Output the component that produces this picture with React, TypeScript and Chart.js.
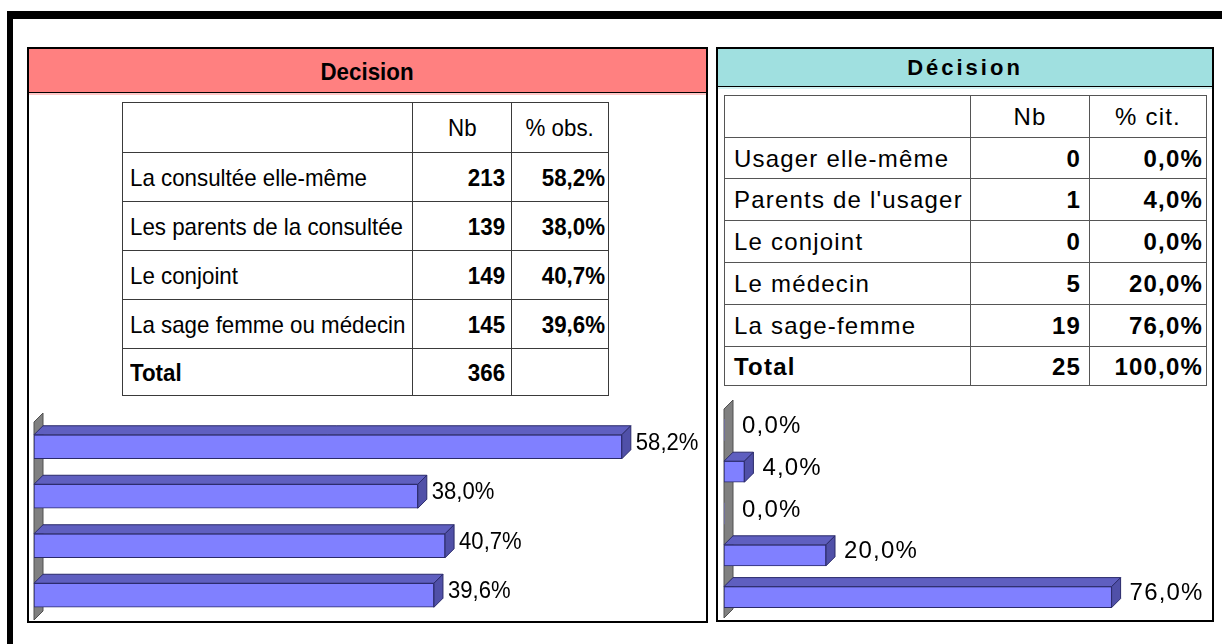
import React, { useEffect, useRef } from "react";
import { Chart, registerables } from "chart.js";

Chart.register(...registerables);

// ---------- Data ----------
const leftTitle = "Decision";
const leftHeaders = ["Nb", "% obs."];
const leftCategories = [
  "La consultée elle-même",
  "Les parents de la consultée",
  "Le conjoint",
  "La sage femme ou médecin",
];
const leftCounts = [213, 139, 149, 145];
const leftPercents = [58.2, 38.0, 40.7, 39.6];
const leftTotal = 366;

const rightTitle = "Décision";
const rightHeaders = ["Nb", "% cit."];
const rightCategories = [
  "Usager elle-même",
  "Parents de l'usager",
  "Le conjoint",
  "Le médecin",
  "La sage-femme",
];
const rightCounts = [0, 1, 0, 5, 19];
const rightPercents = [0.0, 4.0, 0.0, 20.0, 76.0];
const rightTotal = 25;
const rightTotalPercent = 100.0;

const totalLabel = "Total";

const fmtPct = (v: number) => v.toFixed(1).replace(".", ",") + "%";

const FONT = '"Liberation Sans", Arial, Helvetica, sans-serif';

// ---------- 3D bar chart ----------
type BarProps = {
  labels: string[];
  values: number[];
  left: number;
  top: number;
  width: number;
  height: number;
  padding: { left: number; right: number; top: number; bottom: number };
  max: number;
  thickness: number;
  depth: number;
  gap: number;
  fontSize: number;
  letterSpacing: string;
  scaleX: number;
};

function Bar3D(p: BarProps) {
  const ref = useRef<HTMLCanvasElement | null>(null);
  useEffect(() => {
    if (!ref.current) return;
    const d = p.depth;
    const poly = (ctx: CanvasRenderingContext2D, pts: number[][], fill: string, stroke: string) => {
      ctx.beginPath();
      ctx.moveTo(pts[0][0], pts[0][1]);
      for (let k = 1; k < pts.length; k++) ctx.lineTo(pts[k][0], pts[k][1]);
      ctx.closePath();
      ctx.fillStyle = fill;
      ctx.fill();
      ctx.strokeStyle = stroke;
      ctx.lineWidth = 1;
      ctx.stroke();
    };
    const plugin = {
      id: "bar3d",
      beforeDatasetsDraw(chart: any) {
        const { ctx, chartArea } = chart;
        ctx.save();
        const L = chartArea.left;
        poly(
          ctx,
          [
            [L, chartArea.bottom],
            [L, chartArea.top],
            [L + d, chartArea.top - d],
            [L + d, chartArea.bottom - d],
          ],
          "#808080",
          "#505050"
        );
        ctx.restore();
      },
      afterDatasetsDraw(chart: any) {
        const { ctx } = chart;
        const meta = chart.getDatasetMeta(0);
        meta.data.forEach((bar: any, i: number) => {
          const { x, y, base, height } = bar.getProps(["x", "y", "base", "height"], true);
          const y0 = y - height / 2;
          const y1 = y + height / 2;
          const v = p.values[i];
          ctx.save();
          if (v > 0) {
            poly(ctx, [[base, y0], [x, y0], [x + d, y0 - d], [base + d, y0 - d]], "#5F5FC0", "#2A2A6A");
            poly(ctx, [[x, y0], [x + d, y0 - d], [x + d, y1 - d], [x, y1]], "#5050A8", "#2A2A6A");
          }
          ctx.fillStyle = "#000";
          ctx.font = `${p.fontSize}px ${FONT}`;
          (ctx as any).letterSpacing = p.letterSpacing;
          ctx.textAlign = "left";
          ctx.textBaseline = "middle";
          ctx.translate(x + d + p.gap, (y0 - d + y1) / 2 + 1);
          ctx.scale(p.scaleX, 1);
          ctx.fillText(fmtPct(v), 0, 0);
          ctx.restore();
        });
      },
    };
    const chart = new Chart(ref.current, {
      type: "bar",
      data: {
        labels: p.labels,
        datasets: [
          {
            data: p.values,
            backgroundColor: "#8080FF",
            borderColor: "#2A2A6A",
            borderWidth: (c: any) => (p.values[c.dataIndex] > 0 ? 1 : 0),
            borderSkipped: false,
            barThickness: p.thickness,
          } as any,
        ],
      },
      options: {
        indexAxis: "y",
        responsive: false,
        animation: false,
        layout: { padding: p.padding },
        plugins: { legend: { display: false }, tooltip: { enabled: false } },
        scales: {
          x: { display: false, min: 0, max: p.max },
          y: { display: false },
        },
      },
      plugins: [plugin],
    });
    return () => chart.destroy();
  }, []);
  return (
    <canvas
      ref={ref}
      width={p.width}
      height={p.height}
      style={{ position: "absolute", left: p.left, top: p.top, width: p.width, height: p.height }}
    />
  );
}

// ---------- Table ----------
type TableProps = {
  left: number;
  top: number;
  colWidths: number[];
  rowHeights: number[];
  headers: string[];
  categories: string[];
  counts: number[];
  percents: number[];
  total: number;
  totalPercent: number | null;
  fontSize: number;
  letterSpacing: number;
  scaleX: number;
  labelPad: number;
  numPad: number;
  pctPad: number;
  border: string;
};

function DataTable(t: TableProps) {
  const cell = (
    key: string,
    col: number,
    row: number,
    text: string,
    align: "left" | "right" | "center",
    bold: boolean,
    pad: number
  ) => {
    const x = t.colWidths.slice(0, col).reduce((a, b) => a + b, 0);
    const y = t.rowHeights.slice(0, row).reduce((a, b) => a + b, 0);
    return (
      <div
        key={key}
        style={{
          position: "absolute",
          left: t.left + x,
          top: t.top + y,
          width: t.colWidths[col] + 1,
          height: t.rowHeights[row] + 1,
          boxSizing: "border-box",
          border: t.border,
          display: "flex",
          alignItems: "center",
          justifyContent: align === "left" ? "flex-start" : align === "right" ? "flex-end" : "center",
          paddingLeft: align === "left" ? pad : 0,
          paddingRight: align === "right" ? pad : 0,
          fontFamily: FONT,
          fontSize: t.fontSize,
          fontWeight: bold ? "bold" : "normal",
          letterSpacing: t.letterSpacing,
          whiteSpace: "nowrap",
          color: "#000",
          paddingTop: 1,
        }}
      >
        <span
          style={{
            display: "inline-block",
            transform: `scaleX(${t.scaleX})`,
            transformOrigin: align === "left" ? "left center" : align === "right" ? "right center" : "center",
          }}
        >
          {text}
        </span>
      </div>
    );
  };
  const cells: React.ReactNode[] = [];
  cells.push(cell("h0", 0, 0, "", "left", false, t.labelPad));
  cells.push(cell("h1", 1, 0, t.headers[0], "center", false, 0));
  cells.push(cell("h2", 2, 0, t.headers[1], "center", false, 0));
  t.categories.forEach((c, i) => {
    cells.push(cell("l" + i, 0, i + 1, c, "left", false, t.labelPad));
    cells.push(cell("n" + i, 1, i + 1, String(t.counts[i]), "right", true, t.numPad));
    cells.push(cell("p" + i, 2, i + 1, fmtPct(t.percents[i]), "right", true, t.pctPad));
  });
  const r = t.categories.length + 1;
  cells.push(cell("tl", 0, r, totalLabel, "left", true, t.labelPad));
  cells.push(cell("tn", 1, r, String(t.total), "right", true, t.numPad));
  cells.push(
    cell("tp", 2, r, t.totalPercent === null ? "" : fmtPct(t.totalPercent), "right", true, t.pctPad)
  );
  return <>{cells}</>;
}

export default function App() {
  return (
    <div
      style={{
        position: "fixed",
        left: 0,
        top: 0,
        width: 1222,
        height: 644,
        background: "#fff",
        overflow: "hidden",
      }}
    >
      {/* outer frame */}
      <div style={{ position: "absolute", left: 7, top: 11, width: 1215, height: 8, background: "#000" }} />
      <div style={{ position: "absolute", left: 7, top: 11, width: 6, height: 633, background: "#000" }} />

      {/* left panel */}
      <div
        style={{
          position: "absolute",
          left: 27,
          top: 47,
          width: 681,
          height: 576,
          border: "2px solid #000",
          boxSizing: "border-box",
        }}
      />
      <div
        style={{
          position: "absolute",
          left: 29,
          top: 49,
          width: 677,
          height: 43,
          background: "#FF8080",
          borderBottom: "1px solid #000",
          display: "flex",
          alignItems: "center",
          justifyContent: "center",
          fontFamily: FONT,
          fontWeight: "bold",
          fontSize: 24,
          color: "#000",
        }}
      >
        <span style={{ display: "inline-block", transform: "scaleX(0.93)", paddingTop: 2 }}>{leftTitle}</span>
      </div>
      <div style={{ position: "absolute", left: 29, top: 93, width: 677, height: 2, background: "#FFC8C8" }} />
      <DataTable
        left={122}
        top={102}
        colWidths={[290, 99, 97]}
        rowHeights={[50, 49, 49, 49, 49, 47]}
        headers={leftHeaders}
        categories={leftCategories}
        counts={leftCounts}
        percents={leftPercents}
        total={leftTotal}
        totalPercent={null}
        fontSize={24}
        letterSpacing={0}
        scaleX={0.93}
        labelPad={7}
        numPad={6}
        pctPad={3}
        border="1px solid #3a3a3a"
      />
      <Bar3D
        labels={leftCategories}
        values={leftPercents}
        left={29}
        top={400}
        width={676}
        height={221}
        padding={{ left: 5, right: 65, top: 22, bottom: 1 }}
        max={60}
        thickness={24}
        depth={9}
        gap={5}
        fontSize={24}
        letterSpacing="0px"
        scaleX={0.92}
      />

      {/* right panel */}
      <div
        style={{
          position: "absolute",
          left: 716,
          top: 47,
          width: 498,
          height: 575,
          border: "2px solid #000",
          boxSizing: "border-box",
        }}
      />
      <div
        style={{
          position: "absolute",
          left: 718,
          top: 49,
          width: 494,
          height: 37,
          background: "#A0E0E0",
          borderBottom: "1px solid #000",
          display: "flex",
          alignItems: "center",
          justifyContent: "center",
          fontFamily: FONT,
          fontWeight: "bold",
          fontSize: 22,
          letterSpacing: 3,
          color: "#000",
        }}
      >
        {rightTitle}
      </div>
      <div style={{ position: "absolute", left: 718, top: 87, width: 494, height: 2, background: "#D4F2F2" }} />
      <DataTable
        left={724}
        top={95}
        colWidths={[246, 119, 117]}
        rowHeights={[42, 41, 42, 42, 42, 42, 39]}
        headers={rightHeaders}
        categories={rightCategories}
        counts={rightCounts}
        percents={rightPercents}
        total={rightTotal}
        totalPercent={rightTotalPercent}
        fontSize={24}
        letterSpacing={1.2}
        scaleX={1}
        labelPad={9}
        numPad={8}
        pctPad={3}
        border="1px solid #555"
      />
      <Bar3D
        labels={rightCategories}
        values={rightPercents}
        left={719}
        top={395}
        width={492}
        height={226}
        padding={{ left: 5, right: 79, top: 14, bottom: 3 }}
        max={80}
        thickness={21}
        depth={9}
        gap={9}
        fontSize={24}
        letterSpacing="1.2px"
        scaleX={1}
      />
    </div>
  );
}
